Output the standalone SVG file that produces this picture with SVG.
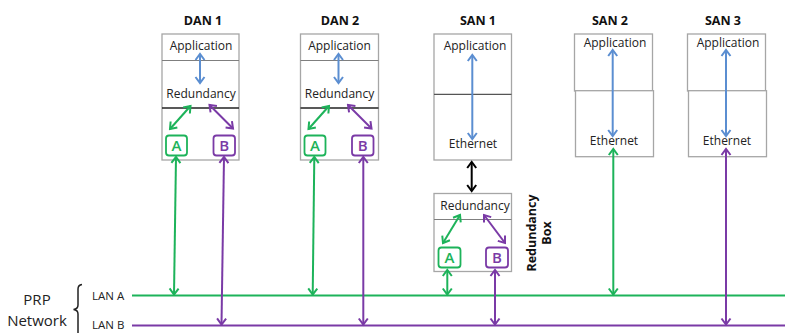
<svg xmlns="http://www.w3.org/2000/svg" width="785" height="333" viewBox="0 0 785 333">
<style>
.box{fill:#fff;stroke:#a6a6a6;stroke-width:1.3}
.div{stroke:#7f7f7f;stroke-width:1}
.divk{stroke:#222;stroke-width:1.5}
.t{font-family:"Open Sans","Liberation Sans",sans-serif;font-size:12px;fill:#222;text-anchor:middle}
.h{font-family:"Open Sans","Liberation Sans",sans-serif;font-size:12.5px;font-weight:bold;fill:#111;text-anchor:middle}
.port{fill:#fff;stroke-width:1.8}
.pa{stroke:#1db35a}
.pb{stroke:#7a3aa6}
.lt{font-family:"Open Sans","Liberation Sans",sans-serif;font-size:15px;font-weight:600;text-anchor:middle}
.g{stroke:#1db35a;stroke-width:2;fill:none;marker-start:url(#mg);marker-end:url(#mg)}
.p{stroke:#7a3aa6;stroke-width:2;fill:none;marker-start:url(#mp);marker-end:url(#mp)}
.b{stroke:#5b8ed1;stroke-width:2;fill:none;marker-start:url(#mb);marker-end:url(#mb)}
.k{stroke:#000;stroke-width:2;fill:none;marker-start:url(#mk);marker-end:url(#mk)}
.lanA{stroke:#1db35a;stroke-width:2}
.lanB{stroke:#7a3aa6;stroke-width:2}
.lbl{font-family:"Open Sans","Liberation Sans",sans-serif;font-size:11.5px;fill:#222}
.big{font-family:"Open Sans","Liberation Sans",sans-serif;font-size:15px;fill:#222;text-anchor:middle}
</style>
<defs>
<marker id="mg" markerUnits="userSpaceOnUse" viewBox="-8 -6 10 12" markerWidth="10" markerHeight="12" refX="0" refY="0" orient="auto-start-reverse"><path d="M-6,-4.5 L0,0 L-6,4.5" fill="none" stroke="#1db35a" stroke-width="2"/></marker>
<marker id="mp" markerUnits="userSpaceOnUse" viewBox="-8 -6 10 12" markerWidth="10" markerHeight="12" refX="0" refY="0" orient="auto-start-reverse"><path d="M-6,-4.5 L0,0 L-6,4.5" fill="none" stroke="#7a3aa6" stroke-width="2"/></marker>
<marker id="mb" markerUnits="userSpaceOnUse" viewBox="-8 -6 10 12" markerWidth="10" markerHeight="12" refX="0" refY="0" orient="auto-start-reverse"><path d="M-6,-4.5 L0,0 L-6,4.5" fill="none" stroke="#5b8ed1" stroke-width="2"/></marker>
<marker id="mk" markerUnits="userSpaceOnUse" viewBox="-8 -6 10 12" markerWidth="10" markerHeight="12" refX="0" refY="0" orient="auto-start-reverse"><path d="M-6,-4.5 L0,0 L-6,4.5" fill="none" stroke="#000" stroke-width="2"/></marker>
</defs>

<g id="network">
<line class="lanA" x1="132" y1="295.5" x2="785" y2="295.5"/>
<line class="lanB" x1="132" y1="325.5" x2="785" y2="325.5"/>
<text class="lbl" x="92" y="299.5">LAN A</text>
<text class="lbl" x="92" y="328.5">LAN B</text>
<text class="big" x="37" y="305">PRP</text>
<text class="big" x="37" y="326">Network</text>
<path d="M82,284.5 Q78,285 78,289 L78,305 Q78,309 73.5,309.5 Q78,310 78,314 L78,333" fill="none" stroke="#222" stroke-width="1.5"/>
</g>

<g id="dan1">
<text class="h" x="203" y="25">DAN 1</text>
<rect class="box" x="162" y="34" width="77" height="126"/>
<line class="div" x1="162" y1="60.5" x2="239" y2="60.5"/>
<line class="divk" x1="162" y1="108" x2="239" y2="108"/>
<text class="t" x="201" y="49.5">Application</text>
<text class="t" x="201" y="97.5">Redundancy</text>
<rect class="port pa" x="166" y="135.5" width="21" height="20" rx="3"/>
<text class="lt" x="176.5" y="151" fill="#1db35a">A</text>
<rect class="port pb" x="213.5" y="135.5" width="21.5" height="20" rx="3"/>
<text class="lt" x="224.3" y="151" fill="#7a3aa6">B</text>
</g>

<g id="dan2">
<text class="h" x="340" y="25">DAN 2</text>
<rect class="box" x="300.5" y="34" width="78" height="126"/>
<line class="div" x1="300.5" y1="60.5" x2="378.5" y2="60.5"/>
<line class="divk" x1="300.5" y1="108" x2="378.5" y2="108"/>
<text class="t" x="339.5" y="49.5">Application</text>
<text class="t" x="339.5" y="97.5">Redundancy</text>
<rect class="port pa" x="304.5" y="135.5" width="21" height="20" rx="3"/>
<text class="lt" x="315" y="151" fill="#1db35a">A</text>
<rect class="port pb" x="352" y="135.5" width="21.5" height="20" rx="3"/>
<text class="lt" x="362.8" y="151" fill="#7a3aa6">B</text>
</g>

<g id="san1">
<text class="h" x="478" y="25">SAN 1</text>
<rect class="box" x="434" y="34" width="77.5" height="126"/>
<line x1="434" y1="94.3" x2="511.5" y2="94.3" style="stroke:#555;stroke-width:1.3"/>
<text class="t" x="475" y="49.5">Application</text>
<text class="t" x="473" y="147.5">Ethernet</text>
</g>

<g id="san2">
<text class="h" x="610" y="25">SAN 2</text>
<rect class="box" x="574.5" y="34" width="78" height="57"/>
<rect class="box" x="575.5" y="90.7" width="78" height="66"/>
<text class="t" x="615" y="47">Application</text>
<text class="t" x="614" y="144.5">Ethernet</text>
</g>

<g id="san3">
<text class="h" x="723" y="25">SAN 3</text>
<rect class="box" x="687.5" y="34" width="78" height="57"/>
<rect class="box" x="688.5" y="90.7" width="78" height="66"/>
<text class="t" x="728" y="47">Application</text>
<text class="t" x="727" y="144.5">Ethernet</text>
</g>

<g id="redbox">
<rect class="box" x="434" y="193.5" width="77.5" height="78"/>
<line class="div" x1="434" y1="219.5" x2="511.5" y2="219.5"/>
<text class="t" x="475" y="209.5">Redundancy</text>
<rect class="port pa" x="438.5" y="247.5" width="22" height="20" rx="3"/>
<text class="lt" x="449.5" y="263" fill="#1db35a">A</text>
<rect class="port pb" x="486" y="247.5" width="22" height="20" rx="3"/>
<text class="lt" x="497" y="263" fill="#7a3aa6">B</text>
<text class="h" transform="translate(535.5,233) rotate(-90)" x="0" y="0">Redundancy</text>
<text class="h" transform="translate(550.5,233) rotate(-90)" x="0" y="0">Box</text>
</g>

<g id="connectors">
<line class="b" x1="200" y1="54" x2="200" y2="83"/>
<line class="g" x1="190.5" y1="106" x2="170" y2="129"/>
<line class="p" x1="209.5" y1="105" x2="233" y2="128.5"/>
<line class="g" x1="176" y1="157" x2="174" y2="294.5"/>
<line class="p" x1="224" y1="157" x2="221.5" y2="324.5"/>

<line class="b" x1="338.5" y1="54" x2="338.5" y2="83"/>
<line class="g" x1="329" y1="106" x2="308.5" y2="129"/>
<line class="p" x1="348" y1="105" x2="371.5" y2="128.5"/>
<line class="g" x1="314.3" y1="157" x2="312.7" y2="294.5"/>
<line class="p" x1="363.3" y1="157" x2="363.3" y2="324.5"/>

<line class="b" x1="472.3" y1="55" x2="472.3" y2="139"/>
<line class="k" x1="471.7" y1="162" x2="471.7" y2="191"/>
<line class="g" x1="460" y1="215" x2="443" y2="243"/>
<line class="p" x1="484" y1="215" x2="505" y2="243"/>
<line class="g" x1="447.3" y1="270" x2="447.3" y2="294.5"/>
<line class="p" x1="495" y1="270" x2="495" y2="324.5"/>

<line class="b" x1="612.7" y1="50" x2="612.7" y2="136"/>
<line class="g" x1="613.3" y1="149" x2="613.3" y2="294.5"/>

<line class="b" x1="726" y1="50" x2="726" y2="136"/>
<line class="p" x1="726" y1="149" x2="726" y2="324.5"/>
</g>
</svg>
